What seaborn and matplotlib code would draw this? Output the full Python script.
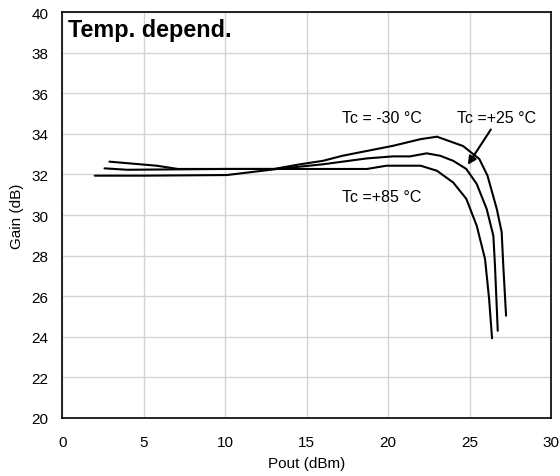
import matplotlib
matplotlib.use("Agg")
import matplotlib.pyplot as plt
import pandas as pd
import seaborn as sns

# Gain vs output power at three case temperatures
pout_m30 = [2.9, 5.8, 7.1, 10.0, 13.0, 14.6, 16.0, 17.2, 20.3, 22.0, 23.0, 24.6, 25.6, 26.1, 26.67, 26.97, 27.07, 27.24]
gain_m30 = [32.63, 32.43, 32.27, 32.27, 32.27, 32.5, 32.67, 32.92, 33.41, 33.74, 33.86, 33.4, 32.76, 31.94, 30.3, 29.16, 27.5, 25.04]

pout_p25 = [2.6, 4.0, 7.0, 10.0, 13.2, 16.0, 18.7, 20.3, 21.35, 22.37, 23.2, 24.0, 24.8, 25.44, 26.05, 26.46, 26.56, 26.73]
gain_p25 = [32.3, 32.23, 32.25, 32.27, 32.27, 32.5, 32.79, 32.89, 32.89, 33.04, 32.92, 32.67, 32.27, 31.53, 30.3, 28.98, 27.5, 24.3]

pout_p85 = [2.0, 4.97, 10.1, 13.2, 18.7, 19.9, 22.0, 23.0, 24.0, 24.8, 25.44, 25.95, 26.2, 26.38]
gain_p85 = [31.94, 31.94, 31.97, 32.27, 32.27, 32.43, 32.43, 32.18, 31.6, 30.8, 29.47, 27.83, 25.86, 23.93]

x_ticks = [0, 5, 10, 15, 20, 25, 30]
y_ticks = [20, 22, 24, 26, 28, 30, 32, 34, 36, 38, 40]

sns.set_style("white")
plt.rcParams["font.family"] = ["Liberation Sans", "DejaVu Sans"]
plt.rcParams["text.color"] = "black"
plt.rcParams["axes.labelcolor"] = "black"
plt.rcParams["xtick.color"] = "black"
plt.rcParams["ytick.color"] = "black"

fig = plt.figure(figsize=(5.6, 4.77), dpi=100)
ax = fig.add_axes([0.111, 0.1216, 0.873, 0.851])

curves = [
    ("-30", pout_m30, gain_m30),
    ("+25", pout_p25, gain_p25),
    ("+85", pout_p85, gain_p85),
]
for name, xs, ys in curves:
    df = pd.DataFrame({"pout": xs, "gain": ys})
    sns.lineplot(data=df, x="pout", y="gain", sort=False, color="black", lw=1.5, ax=ax)

ax.set_xlim(0, 30)
ax.set_ylim(20, 40)
ax.set_xticks(x_ticks)
ax.set_yticks(y_ticks)
ax.grid(True, color="#d4d4d4", lw=1.0)
ax.set_axisbelow(True)
for s in ax.spines.values():
    s.set_color("black")
    s.set_linewidth(1.2)
ax.tick_params(axis="x", length=0, labelsize=11, pad=12)
ax.tick_params(axis="y", length=0, labelsize=11, pad=10)
ax.set_xlabel("Pout (dBm)", fontsize=11, labelpad=5)
ax.set_ylabel("Gain (dB)", fontsize=11, labelpad=5)

ax.text(0.012, 0.985, "Temp. depend.", transform=ax.transAxes, fontsize=16.8,
        fontweight="bold", ha="left", va="top")
ax.text(17.2, 34.83, "Tc = -30 °C", fontsize=11.5, ha="left", va="center")
ax.text(24.25, 34.83, "Tc =+25 °C", fontsize=11.5, ha="left", va="center")
ax.text(17.2, 30.9, "Tc =+85 °C", fontsize=11.5, ha="left", va="center")
ax.annotate("", xy=(24.8, 32.36), xytext=(26.4, 34.33),
            arrowprops=dict(arrowstyle="-|>", color="black", lw=1.5, mutation_scale=12))

fig.savefig("out.png", dpi=100)
